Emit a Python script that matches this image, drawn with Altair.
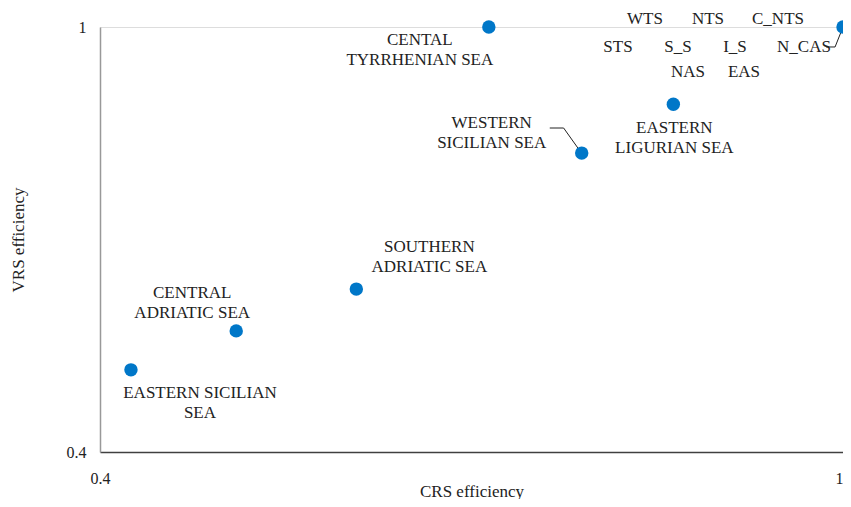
import altair as alt
import pandas as pd

# DMU data (CRS efficiency, VRS efficiency)
names = ["EASTERN SICILIAN\nSEA", "CENTRAL\nADRIATIC SEA", "SOUTHERN\nADRIATIC SEA",
         "CENTAL\nTYRRHENIAN SEA", "WESTERN\nSICILIAN SEA", "EASTERN\nLIGURIAN SEA", "FRONTIER"]
crs = [0.425, 0.510, 0.607, 0.714, 0.789, 0.863, 1.0]
vrs = [0.516, 0.571, 0.630, 1.0, 0.822, 0.891, 1.0]

# labels of the DMUs sitting on the (1, 1) frontier point
cluster_names = ["WTS", "NTS", "C_NTS", "STS", "S_S", "I_S", "N_CAS", "NAS", "EAS"]

# leader lines (data units)
leader_id = ["w", "w", "w", "n", "n", "n"]
leader_x = [0.7632, 0.7744, 0.7888, 0.9864, 0.9936, 1.0]
leader_y = [0.8574, 0.8574, 0.8221, 0.9718, 0.9718, 1.0]

FONT = "Liberation Serif"
BLUE = "#0077C8"
TXT = "#222222"

pts = pd.DataFrame({"name": names, "crs": crs, "vrs": vrs})
lead = pd.DataFrame({"id": leader_id, "crs": leader_x, "vrs": leader_y,
                     "order": list(range(len(leader_x)))})

xscale = alt.Scale(domain=[0.4, 1.0], nice=False, zero=False)
yscale = alt.Scale(domain=[0.4, 1.0], nice=False, zero=False)

points = alt.Chart(pts).mark_circle(size=180, opacity=1, color=BLUE).encode(
    x=alt.X("crs:Q", scale=xscale, title="CRS efficiency",
            axis=alt.Axis(values=[0.4, 1.0], format="~g", grid=False, ticks=False,
                          domainColor="#404040", domainWidth=1.5, labelPadding=18,
                          labelAlign={"condition": {"test": "datum.value == 1", "value": "right"},
                                      "value": "center"},
                          titleY=44, titleBaseline="alphabetic",
                          labelFontSize=16, titleFontSize=17,
                          labelFont=FONT, titleFont=FONT, titleFontWeight="normal",
                          labelColor=TXT, titleColor=TXT, labelFlush=False)),
    y=alt.Y("vrs:Q", scale=yscale, title="VRS efficiency",
            axis=alt.Axis(values=[0.4, 1.0], format="~g", grid=False, ticks=False,
                          domainColor="#999999", domainWidth=1.5, labelPadding=14,
                          titlePadding=39, labelFontSize=16, titleFontSize=17,
                          labelFont=FONT, titleFont=FONT, titleFontWeight="normal",
                          labelColor=TXT, titleColor=TXT, labelFlush=False)),
)

lines = alt.Chart(lead).mark_line(color=TXT, strokeWidth=1).encode(
    x=alt.X("crs:Q", scale=xscale),
    y=alt.Y("vrs:Q", scale=yscale),
    detail="id:N",
    order="order:Q",
)

# label offsets in pixels (dx, dy of the first line) for each named DMU
offsets = {
    names[0]: (69, 23),
    names[1]: (-44, -38),
    names[2]: (73, -42),
    names[3]: (-69, 13),
    names[4]: (-90, -30),
    names[5]: (1, 24),
}
cluster_offsets = [(-198, -8), (-135, -8), (-65, -8),
                   (-225, 20), (-165, 20), (-108, 20), (-39, 20),
                   (-155, 45), (-99, 45)]

text_layers = []
for i, n in enumerate(names[:-1]):
    dx, dy = offsets[n]
    text_layers.append(
        alt.Chart(pts.iloc[[i]]).mark_text(
            font=FONT, fontSize=17, color=TXT, align="center",
            baseline="middle", lineBreak="\n", lineHeight=20, dx=dx, dy=dy
        ).encode(x=alt.X("crs:Q", scale=xscale), y=alt.Y("vrs:Q", scale=yscale),
                 text="name:N")
    )

frontier = pts.iloc[[len(names) - 1]]
for lab, (dx, dy) in zip(cluster_names, cluster_offsets):
    d = frontier.assign(name=lab)
    text_layers.append(
        alt.Chart(d).mark_text(
            font=FONT, fontSize=17, color=TXT, align="center",
            baseline="middle", dx=dx, dy=dy
        ).encode(x=alt.X("crs:Q", scale=xscale), y=alt.Y("vrs:Q", scale=yscale),
                 text="name:N")
    )

chart = alt.layer(lines, points, *text_layers).properties(
    width=743, height=425,
    autosize=alt.AutoSizeParams(type="none"),
    padding={"left": 92, "top": 19, "right": 0, "bottom": 47},
).configure_view(stroke=None).configure(background="white")

chart.save("out.html", embed_options={"renderer": "svg", "actions": False})
